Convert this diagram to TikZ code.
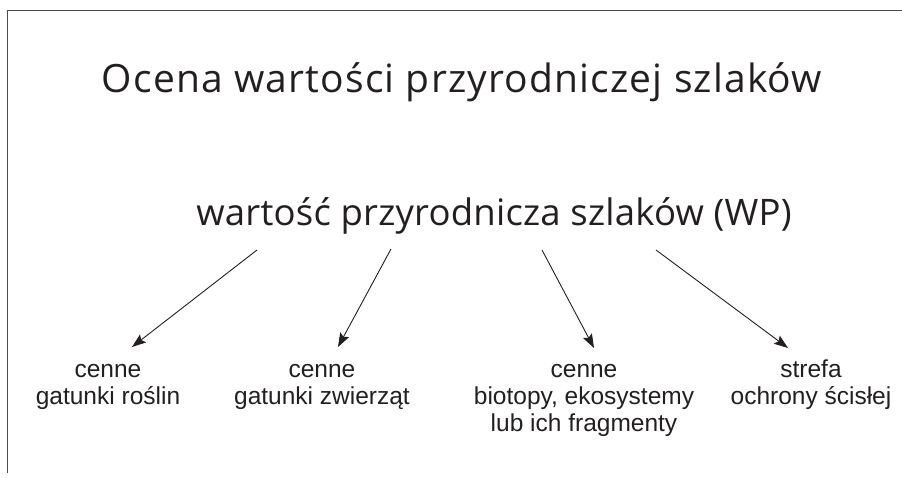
\documentclass[tikz,border=0pt]{standalone}
\usepackage{fontspec}
\setmainfont{Open Sans}
\newfontfamily\headfont[LetterSpace=3.0]{Open Sans}
\newfontfamily\subfont[LetterSpace=0.6]{Open Sans}
\newfontfamily\labelfont{Liberation Sans}
\usetikzlibrary{arrows.meta}
\definecolor{ink}{HTML}{231F20}
\tikzset{
  x=1pt, y=-1pt,
  frameline/.style={draw=black!70, line width=1.2pt},
  headline/.style={inner sep=0pt, anchor=base, text=ink,
    font=\headfont\fontsize{39}{39}\selectfont},
  subline/.style={inner sep=0pt, anchor=base, text=ink,
    font=\subfont\fontsize{36.5}{36.5}\selectfont},
  leaf/.style={inner sep=0pt, anchor=base, align=center, text=ink,
    font=\labelfont\fontsize{24.5}{27}\selectfont},
  link/.style={draw=ink, line width=0.9pt,
    -{Stealth[length=14pt, width=10pt, inset=2.5pt]}}
}
\begin{document}
\begin{tikzpicture}
\useasboundingbox (0,0) rectangle (902,477);
% frame along the top and left edges
\draw[frameline] (902,10.5) -- (7.5,10.5) -- (7.5,473);
% headings
\node[headline] (title) at (462,92.5) {Ocena wartości przyrodniczej szlaków};
\node[subline] (wp) at (494,225) {wartość przyrodnicza szlaków (WP)};
% components of the value (base anchor sits on the last line)
\node[leaf] (rosl) at (108,404.5) {cenne\\gatunki roślin};
\node[leaf] (zwie) at (322,404.5) {cenne\\gatunki zwierząt};
\node[leaf] (biot) at (584,431.5) {cenne\\biotopy, ekosystemy\\lub ich fragmenty};
\node[leaf] (stref) at (811,404.5) {strefa\\ochrony ścisłej};
% arrow ends
\coordinate (s1) at (257,250);
\coordinate (e1) at (132,347);
\coordinate (s2) at (391,249);
\coordinate (e2) at (338,347);
\coordinate (s3) at (542,250);
\coordinate (e3) at (594,348);
\coordinate (s4) at (656,250);
\coordinate (e4) at (788,348);
\draw[link] (s1) -- (e1);
\draw[link] (s2) -- (e2);
\draw[link] (s3) -- (e3);
\draw[link] (s4) -- (e4);
\end{tikzpicture}
\end{document}
